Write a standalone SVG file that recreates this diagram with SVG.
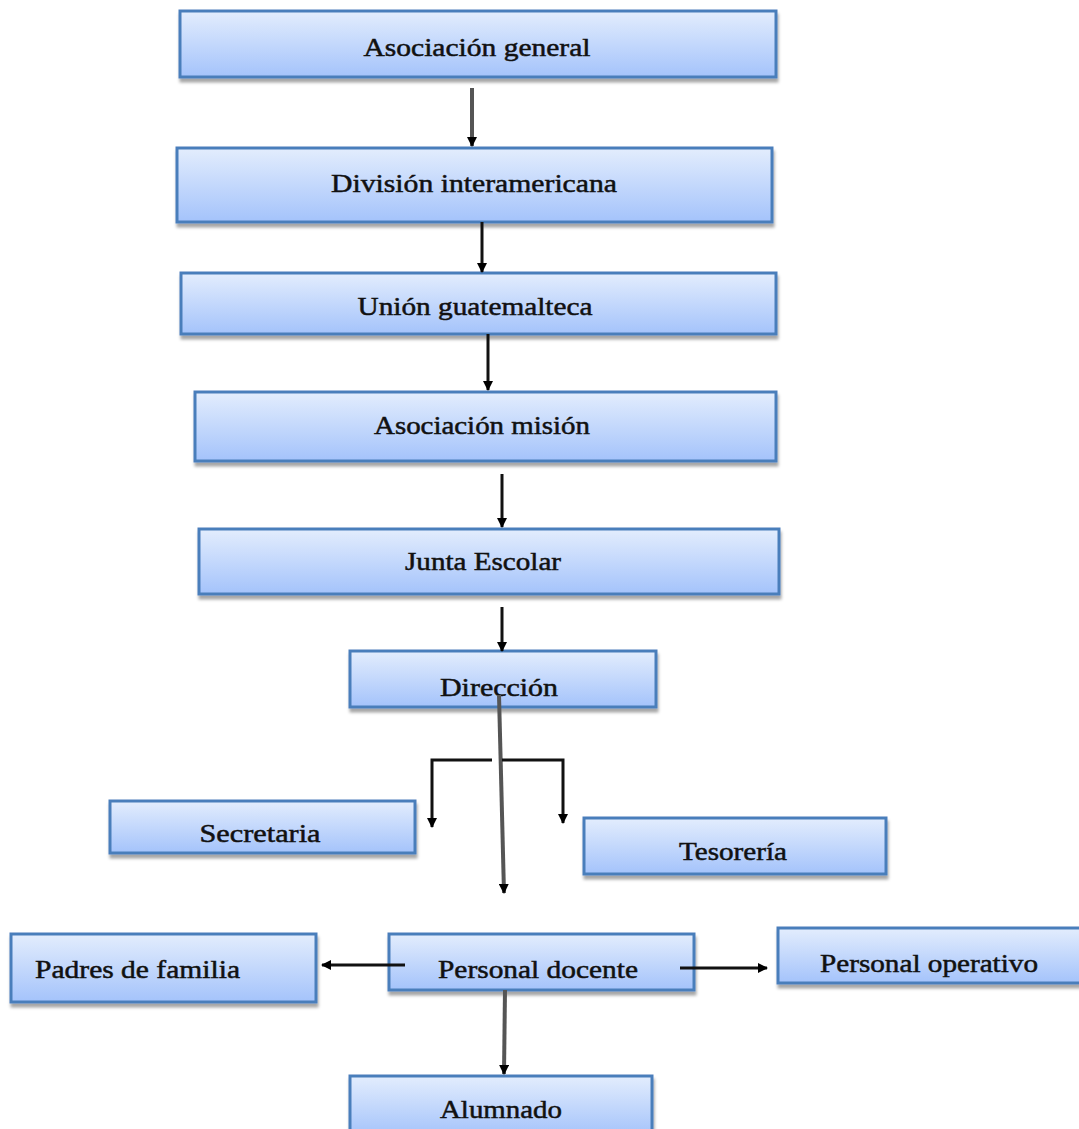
<svg xmlns="http://www.w3.org/2000/svg" width="1079" height="1129" viewBox="0 0 1079 1129">
<defs>
<linearGradient id="g" x1="0" y1="0" x2="0" y2="1">
<stop offset="0" stop-color="#e3edfd"/>
<stop offset="1" stop-color="#a4c3fb"/>
</linearGradient>
<filter id="sh" x="-5%" y="-10%" width="115%" height="140%">
<feDropShadow dx="1" dy="4" stdDeviation="1.5" flood-color="#000" flood-opacity="0.35"/>
</filter>
<marker id="a" viewBox="0 0 10 10" refX="9" refY="5" markerWidth="10" markerHeight="10" orient="auto" markerUnits="userSpaceOnUse">
<path d="M0,0 L10,5 L0,10 Z" fill="#000"/>
</marker>
</defs>
<style>
.box{fill:url(#g);stroke:#4a7ebb;stroke-width:3;filter:url(#sh)}
.t,.tl{font-family:"Liberation Serif","Times New Roman",serif;font-size:26px;fill:#111;stroke:#111;stroke-width:0.5;dominant-baseline:central}
.t{text-anchor:middle}
.c{stroke:#111;stroke-width:3;fill:none}
.cg{stroke:#555;stroke-width:4;fill:none}
</style>
<rect width="1079" height="1129" fill="#fff"/>
<g id="n1"><rect class="box" x="180" y="11" width="596" height="66"/><text class="t" x="477" y="47" textLength="227" lengthAdjust="spacingAndGlyphs">Asociación general</text></g>
<g id="n2"><rect class="box" x="177" y="148" width="595" height="74"/><text class="t" x="474" y="183" textLength="286" lengthAdjust="spacingAndGlyphs">División  interamericana</text></g>
<g id="n3"><rect class="box" x="181" y="273" width="595" height="61"/><text class="t" x="475" y="306" textLength="235" lengthAdjust="spacingAndGlyphs">Unión guatemalteca</text></g>
<g id="n4"><rect class="box" x="195" y="392" width="581" height="69"/><text class="t" x="482" y="425" textLength="216" lengthAdjust="spacingAndGlyphs">Asociación misión</text></g>
<g id="n5"><rect class="box" x="199" y="529" width="580" height="65"/><text class="t" x="483" y="561" textLength="156" lengthAdjust="spacingAndGlyphs">Junta Escolar</text></g>
<g id="n6"><rect class="box" x="350" y="651" width="306" height="56"/><text class="t" x="499" y="687" textLength="118" lengthAdjust="spacingAndGlyphs">Dirección</text></g>
<g id="n7"><rect class="box" x="110" y="801" width="305" height="52"/><text class="t" x="260" y="833" textLength="121" lengthAdjust="spacingAndGlyphs">Secretaria</text></g>
<g id="n8"><rect class="box" x="584" y="818" width="302" height="56"/><text class="t" x="733" y="851" textLength="108" lengthAdjust="spacingAndGlyphs">Tesorería</text></g>
<g id="n9"><rect class="box" x="389" y="934" width="305" height="56"/><text class="t" x="538" y="969" textLength="200" lengthAdjust="spacingAndGlyphs">Personal docente</text></g>
<g id="n10"><rect class="box" x="11" y="934" width="305" height="68"/><text class="tl" x="35" y="969" textLength="205" lengthAdjust="spacingAndGlyphs">Padres de familia</text></g>
<g id="n11"><rect class="box" x="778" y="928" width="310" height="55"/><text class="tl" x="820" y="963" textLength="218" lengthAdjust="spacingAndGlyphs">Personal operativo</text></g>
<g id="n12"><rect class="box" x="350" y="1076" width="302" height="60"/><text class="t" x="501" y="1109" textLength="122" lengthAdjust="spacingAndGlyphs">Alumnado</text></g>
<g id="connectors">
<line class="cg" x1="472" y1="88" x2="472" y2="146" marker-end="url(#a)"/>
<line class="c" x1="482" y1="222" x2="482" y2="272" marker-end="url(#a)"/>
<line class="c" x1="488" y1="334" x2="488" y2="390" marker-end="url(#a)"/>
<line class="c" x1="502" y1="474" x2="502" y2="527" marker-end="url(#a)"/>
<line class="c" x1="502" y1="607" x2="502" y2="651" marker-end="url(#a)"/>
<line class="cg" x1="499" y1="695" x2="504" y2="893" marker-end="url(#a)"/>
<polyline class="c" points="492,760 432,760 432,827" marker-end="url(#a)"/>
<polyline class="c" points="502,760 563,760 563,823" marker-end="url(#a)"/>
<line class="c" x1="405" y1="965" x2="322" y2="965" marker-end="url(#a)"/>
<line class="c" x1="680" y1="968" x2="767" y2="968" marker-end="url(#a)"/>
<line class="cg" x1="505" y1="990" x2="504" y2="1074" marker-end="url(#a)"/>
</g>
</svg>
